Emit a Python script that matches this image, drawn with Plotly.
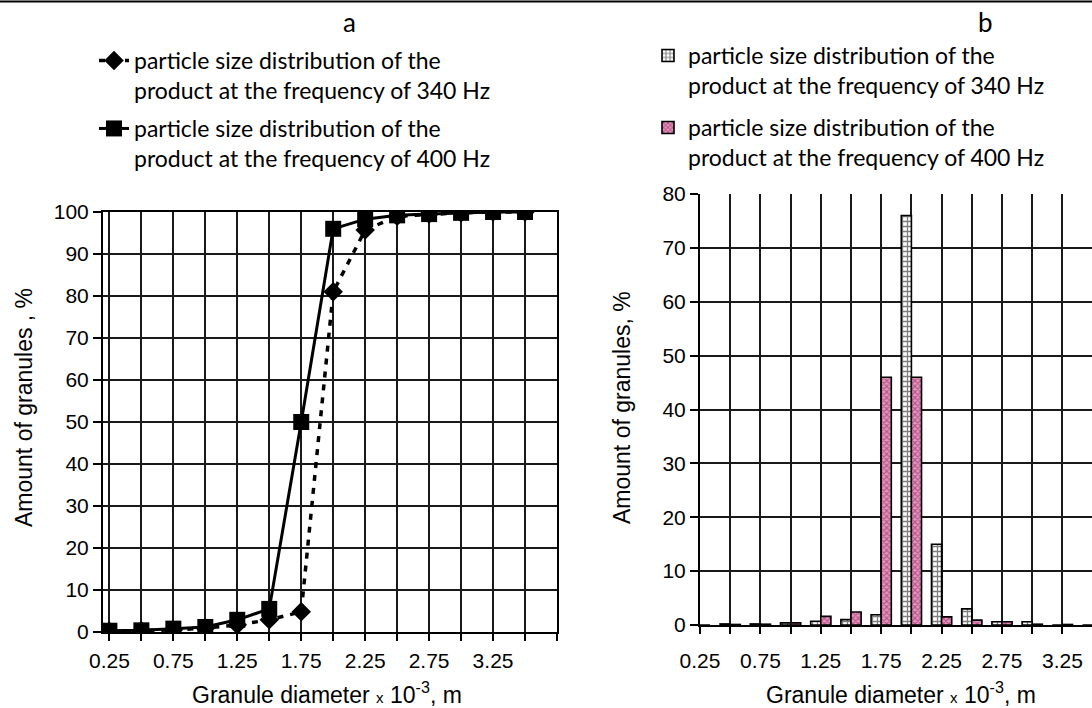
import plotly.graph_objects as go

# ---------------- data ----------------
diam = [0.25, 0.5, 0.75, 1.0, 1.25, 1.5, 1.75, 2.0, 2.25, 2.5, 2.75, 3.0, 3.25, 3.5]
cum_340 = [0.2, 0.3, 0.5, 0.9, 1.7, 2.9, 4.8, 81.0, 95.7, 99.0, 99.5, 99.8, 100.0, 100.0]
cum_400 = [0.3, 0.4, 0.8, 1.2, 2.9, 5.5, 50.0, 96.0, 98.3, 99.2, 99.5, 99.8, 100.0, 100.0]
frac_340 = [0.0, 0.2, 0.2, 0.4, 0.7, 1.0, 1.9, 76.0, 15.0, 3.0, 0.6, 0.6, 0.0, 0.0]
frac_400 = [0.0, 0.1, 0.15, 0.4, 1.6, 2.4, 46.0, 46.0, 1.5, 0.9, 0.6, 0.15, 0.1, 0.0]
tick_vals = [0.25, 0.75, 1.25, 1.75, 2.25, 2.75, 3.25]
tick_text = ["0.25", "0.75", "1.25", "1.75", "2.25", "2.75", "3.25"]
name_340 = "particle size distribution of the<br>product at the frequency of 340 Hz"
name_400 = "particle size distribution of the<br>product at the frequency of 400 Hz"

W, H = 1092, 708
def px(x):
    return x / W
def py(y):
    return 1 - y / H

TICK_FONT = dict(family="Liberation Sans, Arial, sans-serif", size=21, color="black")
TITLE_FONT = dict(family="Liberation Sans, Arial, sans-serif", size=23, color="black")
LEG_FONT = dict(family="Lato, Open Sans, sans-serif", size=23, color="black")
GRID = "#1a1a1a"

fig = go.Figure()

# ---- left chart: cumulative curves ----
fig.add_trace(go.Scatter(
    x=diam, y=cum_340, name=name_340, mode="lines+markers",
    line=dict(color="black", width=3.5, dash="6px,7px"),
    marker=dict(symbol="diamond", size=15, color="black"),
    xaxis="x", yaxis="y", legend="legend",
))
fig.add_trace(go.Scatter(
    x=diam, y=cum_400, name=name_400, mode="lines+markers",
    line=dict(color="black", width=3),
    marker=dict(symbol="square", size=16, color="black"),
    xaxis="x", yaxis="y", legend="legend2",
))

# ---- right chart: fractions ----
fig.add_trace(go.Bar(
    x=diam, y=frac_340, name=name_340,
    marker=dict(color="white", line=dict(color="black", width=1.6),
                pattern=dict(shape="+", fgcolor="black", bgcolor="white", size=5, solidity=0.45)),
    xaxis="x2", yaxis="y2", legend="legend3",
))
fig.add_trace(go.Bar(
    x=diam, y=frac_400, name=name_400,
    marker=dict(color="#c8508c", line=dict(color="black", width=1.6),
                pattern=dict(shape="x", fgcolor="#8e1450", bgcolor="#e497c0", size=4, solidity=0.5)),
    xaxis="x2", yaxis="y2", legend="legend4",
))

common_x = dict(
    showline=True, linecolor="black", linewidth=2,
    showgrid=True, gridcolor=GRID, gridwidth=1.5,
    tickmode="array", tickvals=tick_vals, ticktext=tick_text,
    ticks="outside", ticklen=7, tickwidth=1.5, tickcolor="black",
    minor=dict(dtick=0.25, tick0=0.25, showgrid=True, gridcolor=GRID, gridwidth=1.5,
               ticks="outside", ticklen=7, tickwidth=1.5, tickcolor="black"),
    tickfont=TICK_FONT, zeroline=False, fixedrange=True,
)
common_y = dict(
    showline=True, linecolor="black", linewidth=2,
    showgrid=True, gridcolor=GRID, gridwidth=1.5,
    dtick=10, tick0=0, ticks="outside", ticklen=8, tickwidth=1.5, tickcolor="black",
    tickfont=TICK_FONT, zeroline=False, fixedrange=True,
)

leg_common = dict(font=LEG_FONT, bgcolor="rgba(0,0,0,0)", borderwidth=0,
                  xanchor="left", yanchor="top", valign="top", itemwidth=30,
                  tracegroupgap=0)

fig.update_layout(
    width=W, height=H,
    margin=dict(l=0, r=0, t=0, b=0, autoexpand=False),
    paper_bgcolor="white", plot_bgcolor="white",
    barmode="group", bargap=0.33, bargroupgap=0,
    xaxis=dict(domain=[px(103), px(557)], range=[0.2, 3.75], anchor="y",
               mirror=True, ticklabelstandoff=2, **common_x),
    yaxis=dict(domain=[py(632), py(212)], range=[0, 100], anchor="x",
               mirror=True, **common_y),
    xaxis2=dict(domain=[px(700), 1.0], range=[0.25, 3.495], anchor="y2",
                ticklabelstandoff=9, **common_x),
    yaxis2=dict(domain=[py(625), py(194)], range=[0, 80], anchor="x2", **common_y),
    legend=dict(x=px(94), y=py(39), **leg_common),
    legend2=dict(x=px(94), y=py(107), **leg_common),
    legend3=dict(x=px(648), y=py(34), **leg_common),
    legend4=dict(x=px(648), y=py(106), **leg_common),
    showlegend=True,
)

# top rule
fig.add_shape(type="line", xref="paper", yref="paper", x0=0, x1=1, y0=py(1.5), y1=py(1.5),
              line=dict(color="black", width=2))

ann_base = dict(xref="paper", yref="paper", showarrow=False, xanchor="center", yanchor="middle")
ann = []
ann.append(dict(text="a", x=px(349), y=py(22),
                font=dict(family="Lato, sans-serif", size=26, color="black"), **ann_base))
ann.append(dict(text="b", x=px(985), y=py(22),
                font=dict(family="Lato, sans-serif", size=26, color="black"), **ann_base))
xtitle = "Granule diameter <span style='font-size:15px'>x</span> 10<sup>-3</sup>, m"
ann.append(dict(text=xtitle, x=px(327), y=py(693), font=TITLE_FONT, **ann_base))
ann.append(dict(text=xtitle, x=px(901), y=py(693), font=TITLE_FONT, **ann_base))
ann.append(dict(text="Amount of granules , %", x=px(24), y=py(408), textangle=-90,
                font=TITLE_FONT, **ann_base))
ann.append(dict(text="Amount of granules, %", x=px(622), y=py(408), textangle=-90,
                font=TITLE_FONT, **ann_base))
fig.update_layout(annotations=ann)

fig.write_html("out.html")
